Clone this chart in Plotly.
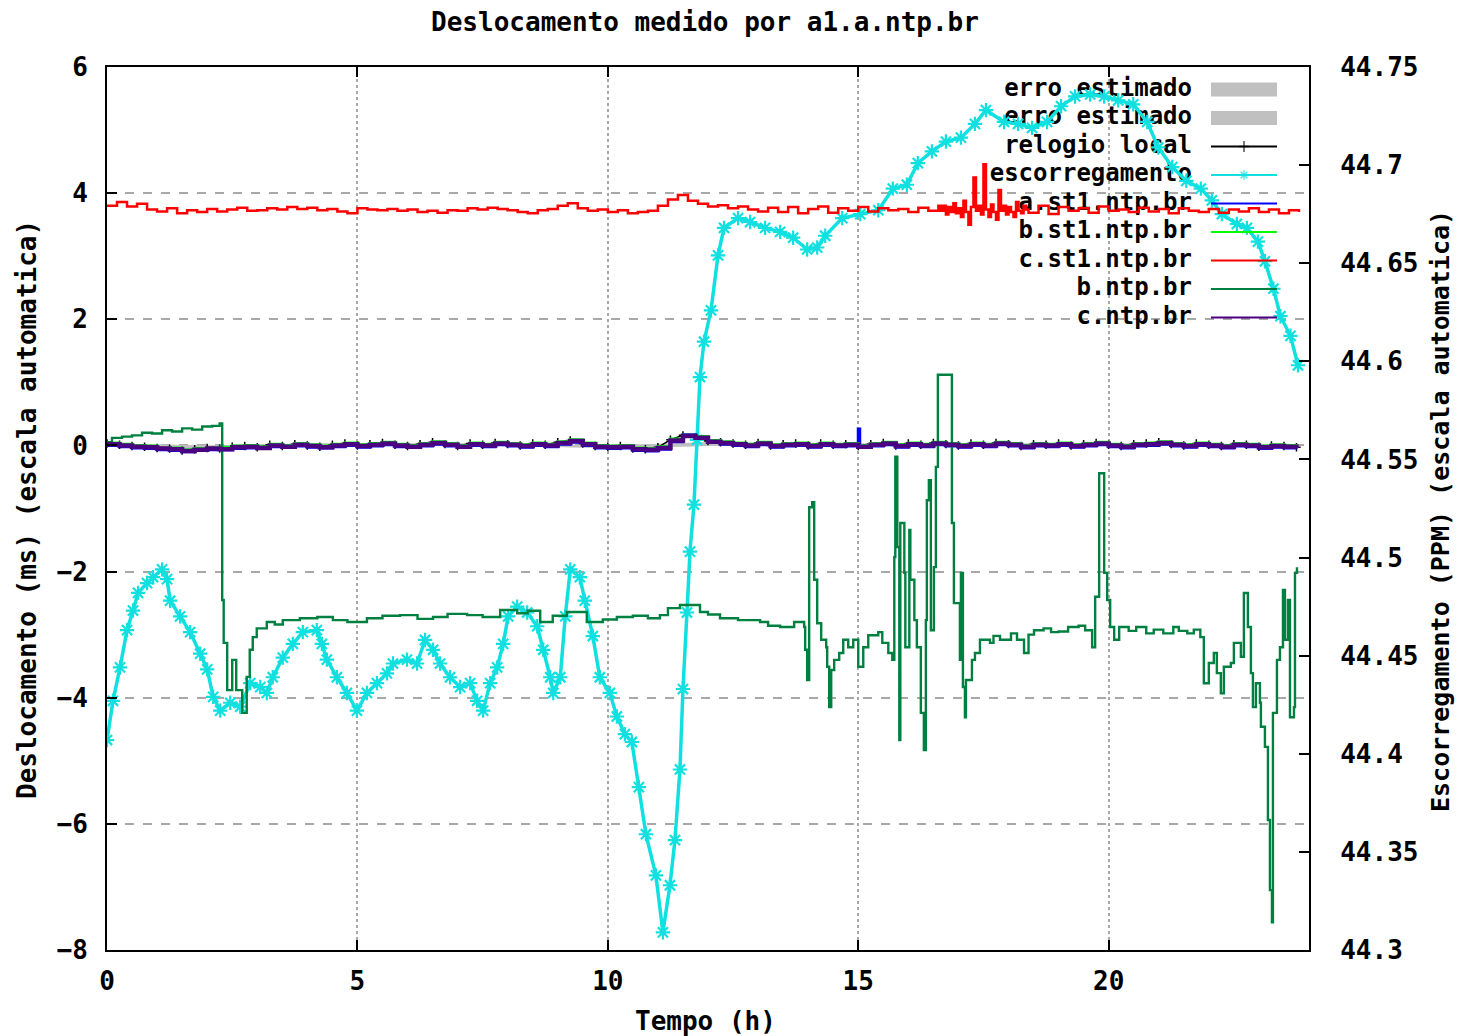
import plotly.graph_objects as go

# ---------------- texts ----------------
title_text = "Deslocamento medido por a1.a.ntp.br"
x_title = "Tempo (h)"
y_title = "Deslocamento (ms) (escala automatica)"
y2_title = "Escorregamento (PPM) (escala automatica)"

x_ticks = [0, 5, 10, 15, 20]
y_ticks = [-8, -6, -4, -2, 0, 2, 4, 6]
y2_ticks = [44.3, 44.35, 44.4, 44.45, 44.5, 44.55, 44.6, 44.65, 44.7, 44.75]
y2_ticktext = ["44.3", "44.35", "44.4", "44.45", "44.5", "44.55", "44.6", "44.65", "44.7", "44.75"]

legend_names = ["erro estimado", "erro estimado", "relogio local", "escorregamento",
                "a.st1.ntp.br", "b.st1.ntp.br", "c.st1.ntp.br", "b.ntp.br", "c.ntp.br"]

# ---------------- data ----------------
# sampling times (h)
t_q = [i / 4 for i in range(96)]      # 0 .. 23.75
t_err = [0, 2, 4, 6, 8, 10, 12, 14, 16, 18, 20, 22, 23.75]

err1_hi = [0.03, 0.00, 0.03, 0.03, 0.03, 0.00, 0.05, 0.03, 0.03, 0.03, 0.03, 0.03, 0.00]
err1_lo = [-0.01, -0.05, -0.01, -0.01, -0.01, -0.04, -0.01, -0.01, -0.01, -0.01, -0.01, -0.01, -0.03]
err2_hi = [0.03, 0.00, 0.03, 0.03, 0.03, 0.00, 0.05, 0.03, 0.03, 0.03, 0.03, 0.03, 0.00]
err2_lo = [-0.01, -0.05, -0.01, -0.01, -0.01, -0.04, -0.01, -0.01, -0.01, -0.01, -0.01, -0.01, -0.03]

local_clock = [
    0.03, 0.01, -0.01, -0.02, -0.04, -0.05, -0.08, -0.06, -0.04, -0.05,
    -0.02, -0.01, -0.03, 0.01, -0.01, 0.02, 0.00, -0.02, 0.01, 0.03,
    0.00, 0.02, 0.04, 0.01, -0.01, 0.02, 0.05, 0.02, -0.01, 0.03,
    0.01, 0.04, 0.02, 0.00, 0.03, 0.01, 0.05, 0.08, 0.03, -0.01,
    -0.02, -0.01, -0.05, -0.06, -0.03, 0.09, 0.16, 0.13, 0.07, 0.05,
    0.03, 0.01, 0.04, 0.00, 0.02, 0.03, 0.00, 0.03, 0.01, 0.02,
    -0.01, 0.02, 0.04, 0.00, 0.03, 0.01, 0.04, 0.02, 0.00, 0.03,
    0.01, 0.04, 0.02, -0.01, 0.02, 0.01, 0.03, 0.00, 0.02, 0.04,
    0.01, -0.01, 0.02, 0.03, 0.05, 0.02, 0.00, 0.03, 0.01, -0.01,
    0.02, 0.01, -0.02, 0.00, -0.01, -0.03]

# a.st1 has a short spike at 15 h, hence one extra sample
a_st1_t = t_q[:61] + [15.03] + t_q[61:]
a_st1 = [
    0.00, -0.02, -0.04, -0.05, -0.07, -0.08, -0.10, -0.08, -0.07, -0.07,
    -0.05, -0.04, -0.05, -0.02, -0.03, -0.01, -0.03, -0.04, -0.02, 0.00,
    -0.03, -0.01, 0.01, -0.02, -0.03, -0.01, 0.02, -0.01, -0.03, 0.00,
    -0.02, 0.01, -0.01, -0.03, 0.00, -0.02, 0.02, 0.05, 0.00, -0.04,
    -0.05, -0.04, -0.08, -0.09, -0.06, 0.06, 0.17, 0.13, 0.05, 0.02,
    0.00, -0.02, 0.01, -0.03, -0.01, 0.00, -0.03, 0.00, -0.02, -0.01,
    0.26, 0.00, -0.01, 0.01, -0.03, 0.00, -0.02, 0.01, -0.01, -0.03, 0.00,
    -0.02, 0.01, -0.01, -0.04, -0.01, -0.02, 0.00, -0.03, -0.01, 0.01,
    -0.02, -0.04, -0.01, 0.00, 0.02, -0.01, -0.03, 0.00, -0.02, -0.04,
    -0.01, -0.02, -0.05, -0.03, -0.04, -0.05]

b_st1 = [
    0.04, 0.02, 0.00, -0.01, -0.04, -0.04, -0.07, -0.05, -0.04, -0.03,
    -0.01, 0.00, -0.02, 0.02, 0.00, 0.03, 0.01, -0.01, 0.02, 0.04,
    0.01, 0.03, 0.05, 0.02, 0.00, 0.03, 0.06, 0.03, 0.00, 0.04,
    0.02, 0.05, 0.03, 0.01, 0.04, 0.02, 0.06, 0.09, 0.04, 0.00,
    -0.01, 0.00, -0.04, -0.05, -0.02, 0.10, 0.16, 0.14, 0.08, 0.06,
    0.04, 0.02, 0.05, 0.01, 0.03, 0.04, 0.01, 0.04, 0.02, 0.03,
    0.00, 0.03, 0.05, 0.01, 0.04, 0.02, 0.05, 0.03, 0.01, 0.04,
    0.02, 0.05, 0.03, 0.00, 0.03, 0.02, 0.04, 0.01, 0.03, 0.05,
    0.02, 0.00, 0.03, 0.04, 0.06, 0.03, 0.01, 0.04, 0.02, 0.00,
    0.03, 0.02, -0.01, 0.01, 0.00, -0.02]

c_ntp = [
    0.02, 0.00, -0.02, -0.03, -0.05, -0.06, -0.09, -0.07, -0.05, -0.06,
    -0.03, -0.02, -0.04, 0.00, -0.02, 0.01, -0.01, -0.03, 0.00, 0.02,
    -0.01, 0.01, 0.03, 0.00, -0.02, 0.01, 0.04, 0.01, -0.02, 0.02,
    0.00, 0.03, 0.01, -0.01, 0.02, 0.00, 0.04, 0.07, 0.02, -0.02,
    -0.03, -0.02, -0.06, -0.07, -0.04, 0.08, 0.15, 0.12, 0.06, 0.04,
    0.02, 0.00, 0.03, -0.01, 0.01, 0.02, -0.01, 0.02, 0.00, 0.01,
    -0.02, 0.01, 0.03, -0.01, 0.02, 0.00, 0.03, 0.01, -0.01, 0.02,
    0.00, 0.03, 0.01, -0.02, 0.01, 0.00, 0.02, -0.01, 0.01, 0.03,
    0.00, -0.02, 0.01, 0.02, 0.04, 0.01, -0.01, 0.02, 0.00, -0.02,
    0.01, 0.00, -0.03, -0.01, -0.02, -0.04]

# c.st1: 0.2 h samples, denser (0.05 h) in the noisy stretch 16.65-18.4 h
c_st1_t = ([i / 5 for i in range(84)]
           + [16.65, 16.70, 16.75, 16.80, 16.85, 16.90, 16.95, 17.00, 17.05, 17.10,
              17.15, 17.20, 17.25, 17.30, 17.35, 17.40, 17.45, 17.50, 17.55, 17.60,
              17.65, 17.70, 17.75, 17.80, 17.85, 17.90, 17.95, 18.00, 18.05, 18.10,
              18.15, 18.20, 18.25, 18.30, 18.35, 18.40]
           + [i / 5 for i in range(93, 120)])
c_st1 = [
    3.80, 3.86, 3.79, 3.83, 3.74, 3.71, 3.76, 3.68, 3.73, 3.70,
    3.75, 3.71, 3.74, 3.77, 3.72, 3.73, 3.76, 3.74, 3.78, 3.75,
    3.77, 3.73, 3.75, 3.71, 3.68, 3.76, 3.74, 3.73, 3.75, 3.72,
    3.74, 3.70, 3.72, 3.69, 3.73, 3.72, 3.76, 3.74, 3.77, 3.75,
    3.73, 3.70, 3.68, 3.73, 3.75, 3.80, 3.84, 3.76, 3.72, 3.74,
    3.70, 3.73, 3.68, 3.70, 3.72, 3.80, 3.90, 3.97, 3.88, 3.83,
    3.79, 3.81, 3.76, 3.79, 3.74, 3.71, 3.77, 3.70, 3.78, 3.68,
    3.75, 3.79, 3.69, 3.76, 3.72, 3.78, 3.71, 3.76, 3.73, 3.75,
    3.70, 3.77, 3.72, 3.80,
    3.72, 3.80, 3.66, 3.78, 3.70, 3.84, 3.68, 3.76, 3.62, 3.88,
    3.70, 3.50, 3.78, 4.25, 3.72, 3.80, 3.66, 4.46, 3.74, 3.62,
    3.82, 3.70, 3.58, 4.05, 3.72, 3.80, 3.66, 3.78, 3.70, 3.62,
    3.86, 3.72, 3.68, 3.80, 3.74, 3.69,
    3.80, 3.67, 3.78, 3.72, 3.76, 3.69, 3.79,
    3.72, 3.74, 3.70, 3.77, 3.71, 3.75, 3.68, 3.76, 3.72, 3.70,
    3.75, 3.69, 3.74, 3.71, 3.76, 3.70, 3.74, 3.68, 3.73, 3.70]

b_ntp_t = [
    0.00, 0.10, 0.30, 0.50, 0.70, 0.90, 1.10, 1.30, 1.50, 1.70, 1.90, 2.10, 2.25,
    2.30, 2.33, 2.40, 2.50, 2.58, 2.70, 2.79, 2.85, 2.91, 2.99, 3.19, 3.35, 3.51,
    3.85, 4.20, 4.51, 4.80, 5.19, 5.50, 5.85, 6.20, 6.51, 6.80, 7.19, 7.50, 7.85,
    8.19, 8.40, 8.65, 8.90, 9.18, 9.58, 9.90, 10.18, 10.50, 10.80, 11.04, 11.20,
    11.44, 11.84, 12.00, 12.24, 12.60, 13.04, 13.20, 13.44, 13.72, 13.92, 13.94,
    13.98, 14.02, 14.08, 14.12, 14.18, 14.26, 14.36, 14.38, 14.42, 14.46, 14.52,
    14.62, 14.70, 14.80, 14.90, 15.00, 15.10, 15.20, 15.40, 15.48, 15.60, 15.68,
    15.72, 15.74, 15.78, 15.82, 15.84, 15.92, 15.94, 16.02, 16.04, 16.12, 16.17,
    16.25, 16.31, 16.35, 16.37, 16.41, 16.45, 16.51, 16.55, 16.59, 16.87, 16.91,
    17.03, 17.05, 17.09, 17.13, 17.15, 17.27, 17.33, 17.43, 17.63, 17.70, 17.83,
    18.05, 18.17, 18.31, 18.40, 18.51, 18.70, 18.85, 19.00, 19.19, 19.40, 19.53,
    19.67, 19.73, 19.81, 19.87, 19.91, 19.97, 20.03, 20.11, 20.21, 20.40, 20.55,
    20.75, 20.90, 21.09, 21.29, 21.40, 21.57, 21.70, 21.83, 21.90, 22.00, 22.10,
    22.16, 22.24, 22.30, 22.44, 22.50, 22.64, 22.70, 22.78, 22.84, 22.88, 22.94,
    23.02, 23.04, 23.12, 23.18, 23.22, 23.26, 23.28, 23.36, 23.42, 23.48, 23.52,
    23.56, 23.58, 23.62, 23.70, 23.72, 23.76]
b_ntp = [
    0.05, 0.12, 0.14, 0.16, 0.20, 0.19, 0.24, 0.22, 0.27, 0.25, 0.30, 0.31, 0.35,
    -2.45, -3.13, -3.88, -3.40, -3.88, -4.24, -3.67, -3.24, -3.04, -2.90, -2.80, -2.84, -2.77,
    -2.74, -2.72, -2.77, -2.80, -2.74, -2.70, -2.69, -2.75, -2.72, -2.67, -2.69, -2.72, -2.61,
    -2.66, -2.62, -2.80, -2.70, -2.64, -2.80, -2.76, -2.72, -2.70, -2.74, -2.69, -2.58,
    -2.53, -2.64, -2.68, -2.74, -2.77, -2.80, -2.86, -2.88, -2.80, -2.88, -3.24,
    -3.72, -0.98, -0.90, -2.13, -2.82, -3.08, -3.20, -3.51, -4.15, -3.56, -3.40,
    -3.29, -3.08, -3.20, -3.08, -3.51, -3.20, -3.01, -2.96, -3.13, -3.29, -3.40,
    -1.77, -0.18, -1.61, -4.67, -1.23, -2.02, -3.20, -1.34, -2.13, -2.77, -3.20,
    -4.24, -4.83, -2.77, -0.87, -0.55, -2.93, -1.93, -0.34, 1.12, -1.23, -2.50,
    -3.40, -2.02, -3.83, -4.31, -3.72, -3.40, -3.29, -3.08, -3.13, -3.02, -3.08,
    -2.98, -3.08, -3.29, -3.00, -2.93, -2.90, -2.96, -2.95, -2.88, -2.86, -2.93,
    -3.20, -2.40, -0.44, -0.44, -2.02, -2.45, -2.88, -3.08, -2.88, -2.94, -2.88,
    -2.98, -2.92, -2.98, -2.88, -2.94, -2.98, -2.92, -3.04, -3.77, -3.45, -3.29,
    -3.61, -3.93, -3.51, -3.45, -3.13, -3.35, -2.34, -2.88, -3.61, -4.15, -3.77,
    -4.08, -4.46, -4.78, -5.94, -7.05, -7.56, -4.24, -3.40, -3.20, -2.29, -3.08,
    -3.08, -2.45, -4.31, -4.15, -2.02, -1.93]

drift_t = [
    0.00, 0.12, 0.26, 0.40, 0.52, 0.62, 0.80, 0.92, 1.10, 1.20, 1.26, 1.46, 1.66, 1.86,
    2.00, 2.12, 2.26, 2.46, 2.66, 2.86, 3.06, 3.19, 3.31, 3.51, 3.71, 3.91, 4.19, 4.29,
    4.39, 4.59, 4.79, 4.99, 5.19, 5.39, 5.59, 5.71, 5.99, 6.19, 6.35, 6.51, 6.65, 6.85,
    7.05, 7.25, 7.39, 7.51, 7.65, 7.79, 7.91, 8.01, 8.19, 8.39, 8.59, 8.71, 8.85, 8.91,
    9.05, 9.15, 9.25, 9.44, 9.54, 9.70, 9.84, 10.04, 10.18, 10.34, 10.48, 10.62, 10.76,
    10.96, 11.10, 11.24, 11.34, 11.44, 11.50, 11.58, 11.64, 11.72, 11.78, 11.84, 11.92,
    12.06, 12.20, 12.32, 12.60, 12.84, 13.14, 13.44, 13.70, 13.98, 14.18, 14.34, 14.68,
    15.04, 15.40, 15.69, 15.97, 16.19, 16.47, 16.75, 17.05, 17.33, 17.55, 17.91, 18.19,
    18.47, 18.77, 19.05, 19.33, 19.63, 19.91, 20.19, 20.49, 20.77, 20.99, 21.27, 21.55,
    21.84, 22.06, 22.26, 22.56, 22.76, 22.98, 23.12, 23.29, 23.43, 23.63, 23.78]
drift_ppm = [
    44.407, 44.427, 44.444, 44.463, 44.473, 44.482, 44.487, 44.490, 44.494, 44.489, 44.478, 44.470, 44.462, 44.451,
    44.443, 44.429, 44.422, 44.426, 44.424, 44.436, 44.434, 44.431, 44.439, 44.449, 44.456, 44.462, 44.463, 44.456,
    44.448, 44.439, 44.431, 44.422, 44.431, 44.436, 44.441, 44.446, 44.448, 44.446, 44.458, 44.453, 44.446, 44.439,
    44.434, 44.436, 44.427, 44.422, 44.436, 44.444, 44.456, 44.470, 44.475, 44.472, 44.465, 44.453, 44.439, 44.431,
    44.439, 44.470, 44.494, 44.490, 44.478, 44.460, 44.439, 44.431, 44.419, 44.410, 44.406, 44.383, 44.359,
    44.338, 44.309, 44.333, 44.356, 44.392, 44.433, 44.472, 44.503, 44.527, 44.560, 44.592, 44.610,
    44.626, 44.654, 44.668, 44.673, 44.671, 44.668, 44.666, 44.663, 44.657, 44.658, 44.664, 44.673,
    44.675, 44.677, 44.688, 44.690, 44.701, 44.707, 44.712, 44.714, 44.721, 44.728, 44.722, 44.721,
    44.719, 44.722, 44.730, 44.735, 44.736, 44.735, 44.733, 44.731, 44.722, 44.709, 44.699, 44.692,
    44.688, 44.682, 44.675, 44.670, 44.668, 44.661, 44.651, 44.637, 44.623, 44.613, 44.598]

# ---------------- styles ----------------
FONT = "DejaVu Sans Mono"
FS = 26
FS_KEY = 24
C_GREY = "#c0c0c0"
C_BLACK = "#000000"
C_CYAN = "#11e0e0"
C_BLUE = "#0000ff"
C_LIME = "#00ff00"
C_RED = "#ff0000"
C_GREEN = "#008040"
C_PURPLE = "#4b0082"

# the page adds an 8 px body margin, so the figure is made smaller than the window
OFF = 8
W, H = 1464 - 2 * OFF, 1036 - OFF
PAGE_L, PAGE_R, PAGE_T, PAGE_B = 107, 1309, 67, 950   # plot area in window pixels
L, T = PAGE_L - OFF, PAGE_T - OFF
R = W - (PAGE_R - OFF)
B = H - (PAGE_B - OFF)
X_RANGE = [0, 24]
Y_RANGE = [-8, 6]
Y2_RANGE = [44.3, 44.75]
PW, PH = PAGE_R - PAGE_L, PAGE_B - PAGE_T


def px_x(px):   # window pixel -> data x (for key placement)
    return X_RANGE[0] + (px - PAGE_L) / PW * (X_RANGE[1] - X_RANGE[0])


def px_y(py):   # window pixel -> data y (left axis)
    return Y_RANGE[1] - (py - PAGE_T) / PH * (Y_RANGE[1] - Y_RANGE[0])


def paper_x(px):
    return (px - PAGE_L) / PW


def paper_y(py):
    return (PAGE_B - py) / PH


KEY_TOP, KEY_STEP = 89.5, 28.5
key_rows = [KEY_TOP + KEY_STEP * i for i in range(len(legend_names))]
key_text_right = 1192
key_x0, key_x1 = 1211, 1277

fig = go.Figure()

# key texts (drawn first so the data passes over them, as in the original)
fig.add_trace(go.Scatter(
    x=[px_x(key_text_right)] * len(legend_names), y=[px_y(r) for r in key_rows],
    text=legend_names, mode="text", textposition="middle left",
    textfont=dict(family=FONT, size=FS_KEY, color="black", weight="bold"),
    showlegend=False, hoverinfo="skip", xaxis="x", yaxis="y"))

# estimated-error bands
for hi, lo in ((err1_hi, err1_lo), (err2_hi, err2_lo)):
    fig.add_trace(go.Scatter(x=t_err, y=lo, mode="lines", line=dict(width=0),
                             showlegend=False, hoverinfo="skip", yaxis="y"))
    fig.add_trace(go.Scatter(x=t_err, y=hi, mode="lines", line=dict(width=0),
                             fill="tonexty", fillcolor=C_GREY,
                             showlegend=False, yaxis="y"))

fig.add_trace(go.Scatter(
    x=t_q, y=local_clock, mode="lines+markers", name=legend_names[2],
    line=dict(color=C_BLACK, width=1.5),
    marker=dict(symbol="cross-thin-open", size=6, line=dict(color=C_BLACK, width=1.5)),
    showlegend=False, yaxis="y"))

fig.add_trace(go.Scatter(
    x=drift_t, y=drift_ppm, mode="lines+markers", name=legend_names[3],
    line=dict(color=C_CYAN, width=3.5),
    marker=dict(symbol="asterisk-open", size=12, color=C_CYAN, line=dict(color=C_CYAN, width=2.2)),
    showlegend=False, yaxis="y2"))

for t, v, c, n, w in ((a_st1_t, a_st1, C_BLUE, legend_names[4], 3),
                      (t_q, b_st1, C_LIME, legend_names[5], 3),
                      (c_st1_t, c_st1, C_RED, legend_names[6], 2.5),
                      (b_ntp_t, b_ntp, C_GREEN, legend_names[7], 2.4),
                      (t_q, c_ntp, C_PURPLE, legend_names[8], 4.5)):
    fig.add_trace(go.Scatter(x=t, y=v, mode="lines", name=n, line_shape="hv",
                             line=dict(color=c, width=w), showlegend=False, yaxis="y3"))

# key samples
sample_colors = {2: C_BLACK, 3: C_CYAN, 4: C_BLUE, 5: C_LIME, 6: C_RED, 7: C_GREEN, 8: C_PURPLE}
for i, c in sample_colors.items():
    yy = px_y(key_rows[i])
    xm = px_x((key_x0 + key_x1) / 2)
    sym = "cross-thin-open" if i == 2 else "asterisk-open"
    fig.add_trace(go.Scatter(
        x=[px_x(key_x0), xm, px_x(key_x1)], y=[yy, yy, yy],
        mode="lines+markers" if i in (2, 3) else "lines",
        line=dict(color=c, width=2),
        marker=dict(symbol=sym, size=[0, 8, 0], color=c, line=dict(color=c, width=1.5)),
        showlegend=False, hoverinfo="skip", yaxis="y3"))

shapes = [
    dict(type="rect", xref="paper", yref="paper", x0=paper_x(968), x1=paper_x(1290),
         y0=paper_y(340), y1=paper_y(70), fillcolor="white", line=dict(width=0), layer="between"),
]
for i in (0, 1):
    shapes.append(dict(type="rect", xref="paper", yref="paper",
                       x0=paper_x(key_x0), x1=paper_x(key_x1),
                       y0=paper_y(key_rows[i] + 7), y1=paper_y(key_rows[i] - 7),
                       fillcolor=C_GREY, line=dict(width=0), layer="above"))

tickfont = dict(family=FONT, size=FS, color="black", weight="bold")
titlefont = dict(family=FONT, size=FS, color="black", weight="bold")
y2titlefont = dict(family=FONT, size=25, color="black", weight="bold")

annotations = [
    dict(text=x_title, xref="paper", yref="paper", x=paper_x(705), y=paper_y(1021),
         xanchor="center", yanchor="middle", showarrow=False, font=titlefont),
    dict(text=y_title, xref="paper", yref="paper", x=paper_x(27), y=paper_y(510),
         xanchor="center", yanchor="middle", showarrow=False, font=titlefont, textangle=-90),
    dict(text=y2_title, xref="paper", yref="paper", x=paper_x(1440), y=paper_y(511),
         xanchor="center", yanchor="middle", showarrow=False, font=y2titlefont, textangle=-90),
]

fig.update_layout(
    width=W, height=H,
    margin=dict(l=L, r=R, t=T, b=B, autoexpand=False),
    paper_bgcolor="white", plot_bgcolor="white",
    showlegend=False,
    title=dict(text=title_text, font=titlefont, x=paper_x(705), xref="paper", xanchor="center",
               y=1 - (22 - OFF) / H, yref="container", yanchor="middle"),
    shapes=shapes,
    annotations=annotations,
    xaxis=dict(range=X_RANGE, tickvals=x_ticks, ticks="inside", ticklen=10, tickwidth=1.5,
               tickcolor="black", showline=True, linecolor="black", linewidth=2, mirror="ticks",
               showgrid=True, gridcolor="#a8a8a8", griddash="dot", gridwidth=1.5,
               zeroline=False, tickfont=tickfont, ticklabelstandoff=7),
    yaxis=dict(range=Y_RANGE, tickvals=y_ticks, ticks="inside", ticklen=10, tickwidth=1.5,
               tickcolor="black", showline=True, linecolor="black", linewidth=2, mirror=False,
               showgrid=True, gridcolor="#a8a8a8", griddash="dash", gridwidth=1.5,
               zeroline=False, tickfont=tickfont, ticklabelstandoff=12),
    yaxis2=dict(range=Y2_RANGE, tickvals=y2_ticks, ticktext=y2_ticktext, overlaying="y",
                side="right", ticks="inside", ticklen=10, tickwidth=1.5, tickcolor="black",
                showline=True, linecolor="black", linewidth=2, showgrid=False, zeroline=False,
                tickfont=tickfont, ticklabelstandoff=24),
    yaxis3=dict(range=Y_RANGE, overlaying="y", visible=False, showgrid=False, zeroline=False),
)

fig.write_html("out.html")
